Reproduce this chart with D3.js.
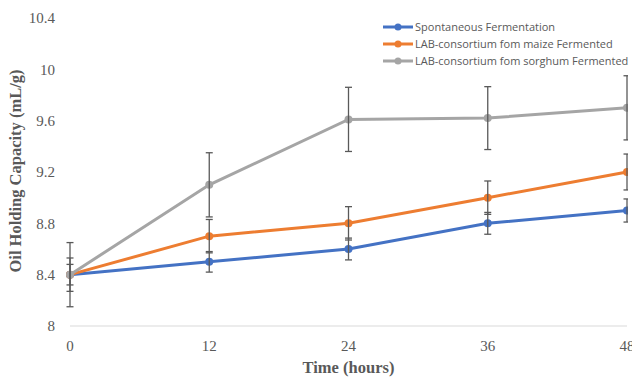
<!DOCTYPE html>
<html>
<head>
<meta charset="utf-8">
<script src="https://cdn.jsdelivr.net/npm/d3@7"></script>
<style>
  body { margin: 0; background: #fff; }
  svg { display: block; }
</style>
</head>
<body>
<div id="chart"></div>
<script>
// data
let hours = [0, 12, 24, 36, 48];
let seriesNames = ["Spontaneous Fermentation", "LAB-consortium fom maize Fermented", "LAB-consortium fom sorghum Fermented"];
let spontaneous = [8.4, 8.5, 8.6, 8.8, 8.9];
let maize = [8.4, 8.7, 8.8, 9.0, 9.2];
let sorghum = [8.4, 9.1, 9.61, 9.62, 9.7];
let spontaneousErr = [0.08, 0.08, 0.085, 0.085, 0.09];
let maizeErr = [0.13, 0.13, 0.13, 0.13, 0.14];
let sorghumErr = [0.25, 0.25, 0.25, 0.245, 0.25];
let yTicks = [8, 8.4, 8.8, 9.2, 9.6, 10, 10.4];
let colors = ["#4472C4", "#ED7D31", "#A5A5A5"];

let svgWidth = 632, svgHeight = 382;
let margin = {top: 18, right: 5, bottom: 56, left: 70},
    width = svgWidth - margin.left - margin.right,
    height = svgHeight - margin.top - margin.bottom;

let svg = d3.select("#chart").append("svg")
    .attr("width", svgWidth)
    .attr("height", svgHeight);

let x = d3.scaleLinear().domain([0, 48]).range([0, 557]),
    y = d3.scaleLinear().domain([8, 10.4]).range([height, 0]),
    g = svg.append("g").attr("transform", "translate(" + margin.left + "," + margin.top + ")");

svg.append("defs").append("clipPath").attr("id", "clip")
  .append("rect").attr("x", -10).attr("y", -20).attr("width", 558 + 10).attr("height", height + 40);

// bottom axis line
g.append("line")
    .attr("x1", 0).attr("x2", x(48))
    .attr("y1", height).attr("y2", height)
    .attr("stroke", "#d9d9d9").attr("stroke-width", 1);

// y tick labels
g.selectAll(".ylab")
  .data(yTicks)
  .enter().append("text")
    .attr("class", "ylab")
    .attr("x", -15)
    .attr("y", d => y(d))
    .attr("dy", "0.35em")
    .attr("text-anchor", "end")
    .attr("font-family", "Liberation Serif, serif")
    .attr("font-size", 15)
    .attr("fill", "#595959")
    .text(d => d);

// x tick labels
g.selectAll(".xlab")
  .data(hours)
  .enter().append("text")
    .attr("class", "xlab")
    .attr("x", d => x(d))
    .attr("y", height + 25)
    .attr("text-anchor", "middle")
    .attr("font-family", "Liberation Serif, serif")
    .attr("font-size", 15)
    .attr("fill", "#595959")
    .text(d => d);

// axis titles
g.append("text")
    .attr("x", x(24))
    .attr("y", height + 47)
    .attr("text-anchor", "middle")
    .attr("font-family", "Liberation Serif, serif")
    .attr("font-weight", "bold")
    .attr("font-size", 16.5)
    .attr("fill", "#595959")
    .text("Time (hours)");

svg.append("text")
    .attr("transform", "translate(21,171) rotate(-90)")
    .attr("text-anchor", "middle")
    .attr("font-family", "Liberation Serif, serif")
    .attr("font-weight", "bold")
    .attr("font-size", 16.5)
    .attr("fill", "#595959")
    .text("Oil Holding Capacity (mL/g)");

let series = [
  {name: seriesNames[0], values: spontaneous, err: spontaneousErr, color: colors[0]},
  {name: seriesNames[1], values: maize, err: maizeErr, color: colors[1]},
  {name: seriesNames[2], values: sorghum, err: sorghumErr, color: colors[2]}
];

let plot = g.append("g").attr("clip-path", "url(#clip)");

let line = d3.line()
    .x((d, i) => x(hours[i]))
    .y(d => y(d));

series.forEach(function(s) {
  plot.append("path")
      .datum(s.values)
      .attr("fill", "none")
      .attr("stroke", s.color)
      .attr("stroke-width", 3)
      .attr("d", line);
  plot.selectAll(null)
      .data(s.values)
      .enter().append("circle")
        .attr("cx", (d, i) => x(hours[i]))
        .attr("cy", d => y(d))
        .attr("r", 4)
        .attr("fill", s.color);
});

// error bars
series.forEach(function(s) {
  let eb = plot.selectAll(null)
      .data(s.values.map((v, i) => ({h: hours[i], v: v, e: s.err[i]})))
      .enter().append("g")
        .attr("stroke", "#595959")
        .attr("stroke-width", 1.3);
  eb.append("line")
      .attr("x1", d => x(d.h)).attr("x2", d => x(d.h))
      .attr("y1", d => y(d.v + d.e)).attr("y2", d => y(d.v - d.e));
  eb.append("line")
      .attr("x1", d => x(d.h) - 3.5).attr("x2", d => x(d.h) + 3.5)
      .attr("y1", d => y(d.v + d.e)).attr("y2", d => y(d.v + d.e));
  eb.append("line")
      .attr("x1", d => x(d.h) - 3.5).attr("x2", d => x(d.h) + 3.5)
      .attr("y1", d => y(d.v - d.e)).attr("y2", d => y(d.v - d.e));
});

// legend
let legend = svg.append("g").attr("transform", "translate(383,27)");
series.forEach(function(s, i) {
  let row = legend.append("g").attr("transform", "translate(0," + (i * 17) + ")");
  row.append("line")
      .attr("x1", 0).attr("x2", 30)
      .attr("stroke", s.color).attr("stroke-width", 3);
  row.append("circle").attr("cx", 15).attr("r", 3.5).attr("fill", s.color);
  row.append("text")
      .attr("x", 32)
      .attr("dy", "0.35em")
      .attr("font-family", "Open Sans, sans-serif")
      .attr("font-size", 11)
      .attr("fill", "#595959")
      .text(s.name);
});
</script>
</body>
</html>
